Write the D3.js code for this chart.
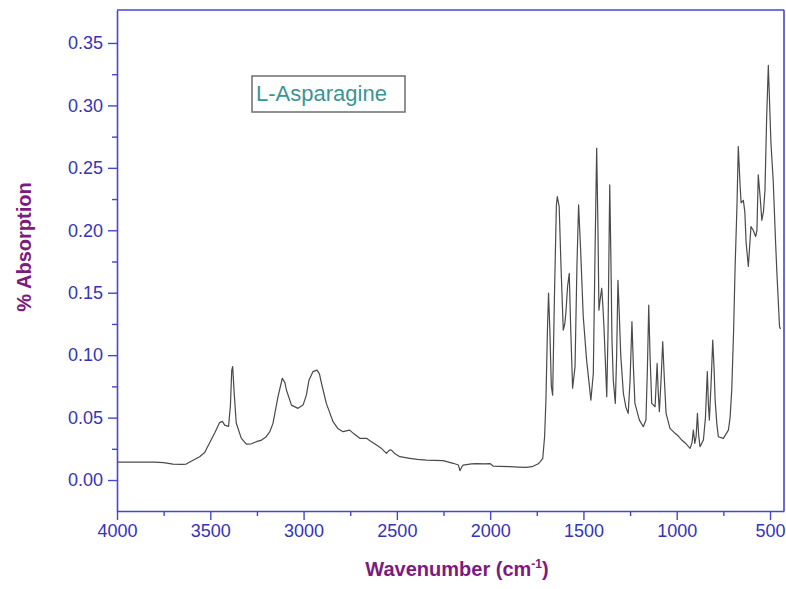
<!DOCTYPE html>
<html>
<head>
<meta charset="utf-8">
<script src="https://cdn.jsdelivr.net/npm/d3@7"></script>
<style>
  body { margin: 0; background: #fff; }
  svg { display: block; font-family: "Liberation Sans", Arial, sans-serif; }
</style>
</head>
<body>
<div id="chart"></div>
<script>
// IR spectrum of L-Asparagine
const wavenumbers = [4000, 3900, 3800, 3750, 3700, 3650, 3629, 3590, 3557, 3530, 3504, 3475, 3450, 3435, 3423, 3402,
  3392, 3385, 3380, 3372, 3361, 3334, 3307, 3280, 3253, 3225, 3200, 3180, 3164, 3137, 3114, 3100, 3092, 3065, 3030,
  3003, 2985, 2971, 2950, 2928, 2915, 2904, 2878, 2842, 2815, 2789, 2753, 2730, 2699, 2663, 2640, 2609, 2580, 2556,
  2540, 2529, 2510, 2484, 2431, 2390, 2341, 2300, 2252, 2198, 2170, 2162, 2150, 2145, 2100, 2073, 2030, 2001, 1984,
  1950, 1894, 1850, 1805, 1770, 1742, 1730, 1718, 1708, 1701, 1693, 1687, 1680, 1672, 1665, 1655, 1645, 1640, 1630,
  1620, 1608, 1600, 1594, 1585, 1576, 1568, 1558, 1545, 1535, 1526, 1515, 1501, 1483, 1470, 1460, 1447, 1438, 1429,
  1422, 1417, 1410, 1402, 1396, 1390, 1375, 1368, 1359, 1353, 1347, 1340, 1329, 1322, 1315, 1308, 1300, 1286, 1272,
  1260, 1250, 1240, 1232, 1224, 1200, 1179, 1165, 1157, 1150, 1143, 1134, 1116, 1105, 1099, 1093, 1084, 1075, 1066,
  1057, 1036, 1009, 990, 973, 950, 928, 918, 911, 903, 896, 889, 882, 875, 857, 846, 836, 830, 825, 815, 807, 800,
  794, 785, 777, 750, 723, 714, 705, 695, 687, 677, 670, 660, 655, 643, 635, 628, 616, 610, 602, 590, 577, 570, 563,
  552, 544, 535, 527, 518, 509, 504, 495, 483, 470, 463, 449, 444];
const absorption = [0.0144, 0.0144, 0.0143, 0.0140, 0.0128, 0.0126, 0.0128, 0.0160, 0.0187, 0.022, 0.0296, 0.038, 0.046, 0.047, 0.044, 0.043,
  0.060, 0.088, 0.0908, 0.070, 0.0457, 0.0336, 0.0288, 0.029, 0.0307, 0.032, 0.0347, 0.039, 0.0454, 0.0668, 0.0815, 0.078, 0.0721, 0.060, 0.0574,
  0.060, 0.068, 0.080, 0.0868, 0.088, 0.085, 0.0775, 0.0614, 0.0467, 0.041, 0.0387, 0.040, 0.037, 0.0334, 0.0334, 0.031, 0.028, 0.025, 0.0214,
  0.024, 0.024, 0.021, 0.0187, 0.0174, 0.0165, 0.016, 0.0158, 0.0155, 0.0134, 0.012, 0.0075, 0.011, 0.012, 0.013, 0.0131, 0.013, 0.0132, 0.0112,
  0.011, 0.0107, 0.0104, 0.0102, 0.011, 0.013, 0.015, 0.0174, 0.035, 0.064, 0.12, 0.1496, 0.12, 0.075, 0.068, 0.15, 0.22, 0.227, 0.219,
  0.17, 0.120, 0.125, 0.134, 0.155, 0.1656, 0.12, 0.0735, 0.0908, 0.17, 0.2204, 0.184, 0.131, 0.096, 0.078, 0.064, 0.0855, 0.18, 0.2658,
  0.2, 0.136, 0.145, 0.1536, 0.14, 0.123, 0.0668, 0.12, 0.2364, 0.18, 0.112, 0.08, 0.0614, 0.10, 0.160, 0.1336, 0.10, 0.0695, 0.058,
  0.0534, 0.08, 0.1268, 0.09, 0.0614, 0.048, 0.0427, 0.048, 0.09, 0.140, 0.10, 0.0614, 0.0587, 0.0935, 0.07, 0.0547, 0.08, 0.1108, 0.08,
  0.0534, 0.0414, 0.0374, 0.035, 0.032, 0.029, 0.0254, 0.030, 0.040, 0.0294, 0.035, 0.0534, 0.035, 0.0267, 0.032, 0.05, 0.0868, 0.06, 0.048, 0.08, 0.112, 0.09,
  0.064, 0.045, 0.0347, 0.0334, 0.040, 0.05, 0.072, 0.12, 0.171, 0.22, 0.267, 0.235, 0.222, 0.224, 0.215, 0.190, 0.171, 0.185, 0.203, 0.200, 0.195, 0.200, 0.2444,
  0.225, 0.208, 0.215, 0.232, 0.29, 0.332, 0.31, 0.27, 0.240, 0.19, 0.1656, 0.123, 0.121];

const xTicks = [4000, 3500, 3000, 2500, 2000, 1500, 1000, 500];
const xMinorTicks = [3750, 3250, 2750, 2250, 1750, 1250, 750];
const yTicks = [0.00, 0.05, 0.10, 0.15, 0.20, 0.25, 0.30, 0.35];
const yMinorTicks = [0.025, 0.075, 0.125, 0.175, 0.225, 0.275, 0.325];
const sampleName = "L-Asparagine";

const width = 786;
const height = 589;
const margin = { top: 10, right: 2, bottom: 78, left: 117 };
const axisColor = "#4646d2";
const labelColor = "#3434b8";
const titleColor = "#7d1a80";

const svg = d3.select("#chart")
  .append("svg")
  .attr("width", width)
  .attr("height", height);

const x = d3.scaleLinear()
  .domain([4000, 425])
  .range([margin.left, width - margin.right]);

const y = d3.scaleLinear()
  .domain([-0.0248, 0.3764])
  .range([height - margin.bottom, margin.top]);

const data = wavenumbers.map((w, i) => ({ w: w, a: absorption[i] }));

// spectrum
svg.append("path")
  .datum(data)
  .attr("fill", "none")
  .attr("stroke", "#4a4a4a")
  .attr("stroke-width", 1.2)
  .attr("stroke-linejoin", "round")
  .attr("d", d3.line().x(d => x(d.w)).y(d => y(d.a)));

// frame: top and right edges
svg.append("line")
  .attr("x1", margin.left).attr("x2", width - margin.right)
  .attr("y1", margin.top).attr("y2", margin.top)
  .attr("stroke", axisColor).attr("stroke-width", 1.6);
svg.append("line")
  .attr("x1", width - margin.right).attr("x2", width - margin.right)
  .attr("y1", margin.top).attr("y2", height - margin.bottom)
  .attr("stroke", axisColor).attr("stroke-width", 1.6);

// axes
svg.append("g")
  .attr("transform", `translate(0, ${height - margin.bottom})`)
  .call(d3.axisBottom(x).tickValues(xTicks).tickFormat(d3.format("d")).tickSize(9).tickPadding(4).tickSizeOuter(0));

svg.append("g")
  .attr("transform", `translate(0, ${height - margin.bottom})`)
  .call(d3.axisBottom(x).tickValues(xMinorTicks).tickFormat("").tickSize(5).tickSizeOuter(0))
  .select(".domain").remove();

svg.append("g")
  .attr("transform", `translate(${margin.left}, 0)`)
  .call(d3.axisLeft(y).tickValues(yTicks).tickFormat(d3.format(".2f")).tickSize(9).tickPadding(5).tickSizeOuter(0));

svg.append("g")
  .attr("transform", `translate(${margin.left}, 0)`)
  .call(d3.axisLeft(y).tickValues(yMinorTicks).tickFormat("").tickSize(5).tickSizeOuter(0))
  .select(".domain").remove();

svg.selectAll(".domain").attr("stroke", axisColor).attr("stroke-width", 1.6);
svg.selectAll(".tick line").attr("stroke", axisColor).attr("stroke-width", 1.4);
svg.selectAll(".tick text")
  .attr("fill", labelColor)
  .style("font-size", "18px")
  .style("font-family", "'Liberation Sans', Arial, sans-serif");

// axis titles
const xTitle = svg.append("text")
  .attr("x", 457)
  .attr("y", 576)
  .attr("text-anchor", "middle")
  .attr("fill", titleColor)
  .style("font-size", "20px")
  .style("font-weight", "bold");
xTitle.append("tspan").text("Wavenumber (cm");
xTitle.append("tspan").attr("dy", -8).style("font-size", "12px").text("-1");
xTitle.append("tspan").attr("dy", 8).text(")");

svg.append("text")
  .attr("transform", "translate(31, 247) rotate(-90)")
  .attr("text-anchor", "middle")
  .attr("fill", titleColor)
  .style("font-size", "20px")
  .style("font-weight", "bold")
  .text("% Absorption");

// sample label
svg.append("rect")
  .attr("x", 252)
  .attr("y", 76)
  .attr("width", 153)
  .attr("height", 36)
  .attr("fill", "#fff")
  .attr("stroke", "#6e6e6e")
  .attr("stroke-width", 1.5);

svg.append("text")
  .attr("x", 256)
  .attr("y", 101)
  .attr("fill", "#3b9494")
  .style("font-size", "22px")
  .text(sampleName);
</script>
</body>
</html>
